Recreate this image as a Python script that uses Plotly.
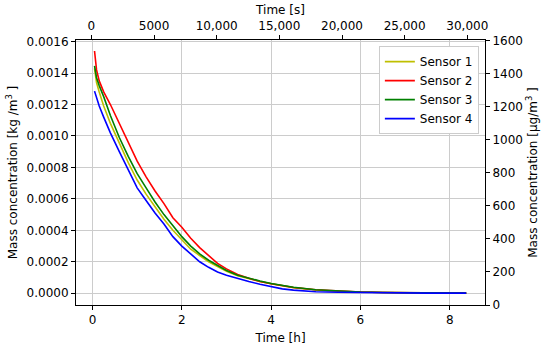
import plotly.graph_objects as go

# time in hours
time_h = [0.045, 0.09, 0.15, 0.25, 0.4, 0.6, 0.8, 1.0, 1.2, 1.4, 1.6, 1.8, 2.0, 2.2, 2.4,
          2.6, 2.8, 3.0, 3.25, 3.5, 3.75, 4.0, 4.25, 4.5, 5.0, 5.5, 6.0, 6.5, 7.0, 7.5, 8.0, 8.37]

sensor1 = [0.00143, 0.00134, 0.00128, 0.00119, 0.00108, 0.00095, 0.00083, 0.00072, 0.00063,
           0.00055, 0.00047, 0.00040, 0.00034, 0.00028, 0.00024, 0.00020, 0.00017, 0.00014,
           0.000112, 0.000092, 0.000075, 0.00006, 0.000046, 0.000036, 0.000021, 0.000012,
           0.000008, 0.000005, 0.000003, 0.000002, 0.000001, 0.000001]
sensor2 = [0.00154, 0.00142, 0.00135, 0.00128, 0.00120, 0.00108, 0.00095, 0.00084, 0.00074,
           0.00065, 0.00057, 0.00048, 0.00042, 0.00035, 0.00029, 0.00024, 0.00019, 0.000155,
           0.00012, 0.000095, 0.000075, 0.00006, 0.000047, 0.000037, 0.000022, 0.000013,
           0.000008, 0.000005, 0.000003, 0.000002, 0.000001, 0.000001]
sensor3 = [0.001445, 0.00137, 0.00132, 0.00125, 0.00113, 0.00099, 0.00087, 0.00076, 0.00067,
           0.00058, 0.00050, 0.00043, 0.00036, 0.00030, 0.00025, 0.00021, 0.000175, 0.000145,
           0.000115, 0.000095, 0.000078, 0.000062, 0.000048, 0.000038, 0.000022, 0.000013,
           0.000008, 0.000005, 0.000003, 0.000002, 0.000001, 0.000001]
sensor4 = [0.001285, 0.00124, 0.00119, 0.00112, 0.00102, 0.00090, 0.00078, 0.00067, 0.00059,
           0.00051, 0.00044, 0.00036, 0.00030, 0.00025, 0.00020, 0.000165, 0.000135, 0.000115,
           0.000093, 0.000075, 0.000057, 0.000042, 0.000028, 0.00002, 0.00001, 0.000006,
           0.000004, 0.000003, 0.000002, 0.000001, 0.000001, 0.000001]

names = ["Sensor 1", "Sensor 2", "Sensor 3", "Sensor 4"]
colors = ["#bfbf00", "#ff0000", "#008000", "#0000ff"]

x_ticks_h = [0, 2, 4, 6, 8]
x_ticks_s = [0, 5000, 10000, 15000, 20000, 25000, 30000]
x_ticktext_s = ["0", "5000", "10,000", "15,000", "20,000", "25,000", "30,000"]
y_ticks_kg = [0, 0.0002, 0.0004, 0.0006, 0.0008, 0.0010, 0.0012, 0.0014, 0.0016]
y_ticks_ug = [0, 200, 400, 600, 800, 1000, 1200, 1400, 1600]

fig = go.Figure()
for name, col, ys in zip(names, colors, [sensor1, sensor2, sensor3, sensor4]):
    fig.add_trace(go.Scatter(x=time_h, y=ys, mode="lines", name=name,
                             line=dict(color=col, width=1.6)))
# empty trace to activate top/right axes
fig.add_trace(go.Scatter(x=[None], y=[None], xaxis="x2", yaxis="y2",
                         showlegend=False, hoverinfo="skip", mode="lines"))

axis_common = dict(showline=True, linecolor="black", linewidth=1, ticks="outside",
                   ticklen=4, tickcolor="black", zeroline=False, automargin=False,
                   tickfont=dict(size=12, color="black"))

fig.update_layout(
    width=550, height=351,
    margin=dict(l=76, r=65, t=40, b=46),
    plot_bgcolor="white", paper_bgcolor="white",
    font=dict(family="DejaVu Sans", size=12, color="black"),
    xaxis=dict(range=[-0.37, 8.79], tickvals=x_ticks_h, showgrid=True,
               gridcolor="#cccccc", gridwidth=1,
               title=dict(text="Time [h]", standoff=7, font=dict(size=12)), **axis_common),
    xaxis2=dict(overlaying="x", side="top", anchor="y", range=[-1229, 31413],
                tickvals=x_ticks_s, ticktext=x_ticktext_s, showgrid=False,
                title=dict(text="Time [s]", standoff=2, font=dict(size=12)), **axis_common),
    yaxis=dict(range=[-0.0000746, 0.00161], tickvals=y_ticks_kg, tickformat=".4f",
               showgrid=True, gridcolor="#cccccc", gridwidth=1,
               title=dict(text="Mass concentration [kg /m<sup>3</sup> ]", standoff=6,
                          font=dict(size=12)), **axis_common),
    yaxis2=dict(overlaying="y", side="right", anchor="x", range=[0, 1603],
                tickvals=y_ticks_ug, showgrid=False,
                title=dict(text="Mass concentration [µg/m<sup>3</sup> ]", standoff=6,
                           font=dict(size=12)), **axis_common),
    legend=dict(x=0.985, y=0.977, xanchor="right", yanchor="top",
                bgcolor="white", bordercolor="#cccccc", borderwidth=1,
                font=dict(size=12)),
    showlegend=True,
)

fig.write_html("out.html", config={"displayModeBar": False},
               post_script="document.body.style.margin='0';document.body.style.padding='0';")
